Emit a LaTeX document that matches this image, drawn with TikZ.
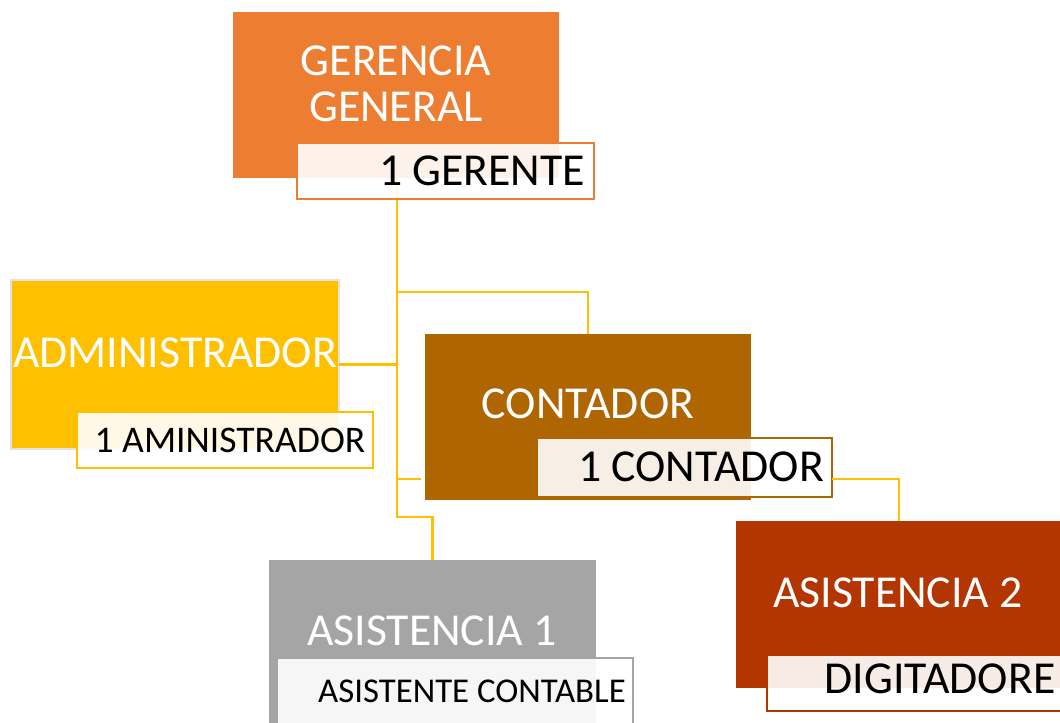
\documentclass[tikz,border=0pt]{standalone}
\usepackage{fontspec}
\setmainfont{Carlito}
\usetikzlibrary{fit}
\definecolor{cOrange}{HTML}{ED7D31}
\definecolor{cGold}{HTML}{FFC000}
\definecolor{cBrown}{HTML}{AF6500}
\definecolor{cGray}{HTML}{A5A5A5}
\definecolor{cRed}{HTML}{B33500}
\definecolor{cEdge}{HTML}{E2E2E2}
\begin{document}
\begin{tikzpicture}[x=0.75pt,y=-0.75pt,
  mainbox/.style={inner sep=0pt, outer sep=0pt},
  subbox/.style={inner sep=0pt, outer sep=0pt, fill=white, fill opacity=0.9, line width=1.5pt},
  big/.style={font=\fontsize{34.3}{34.3}\selectfont, inner sep=0pt, anchor=base},
  mid/.style={font=\fontsize{28.2}{28.2}\selectfont, inner sep=0pt, anchor=base},
  small/.style={font=\fontsize{26.1}{26.1}\selectfont, inner sep=0pt, anchor=base},
  conn/.style={draw=cGold, line width=1.9pt}]
\useasboundingbox (0,0) rectangle (1060,722);

% reference coordinates
\coordinate (tk) at (397,0);
\coordinate (y292) at (0,292);
\coordinate (y479) at (0,479);
\coordinate (y517) at (0,517);

% main boxes
\node[mainbox, fill=cOrange, fit={(233,12) (559,178)}] (ger) {};
\node[mainbox, fill=cGold, draw=cEdge, line width=1.2pt, fit={(11,280) (339,449)}] (adm) {};
\node[mainbox, fill=cBrown, fit={(425,334) (751,500)}] (cont) {};
\node[mainbox, fill=cGray, fit={(269,560) (596,740)}] (as1) {};
\node[mainbox, fill=cRed, fit={(736,521) (1062,688)}] (as2) {};

% connectors
\draw[conn] (ger.south -| tk) -- (tk |- y517) -| (as1.north);
\draw[conn] (tk |- y292) -| (cont.north);
\draw[conn] (adm.east) -- (adm.east -| tk);
\draw[conn] (tk |- y479) -- ([xshift=-3pt]cont.west |- y479);

% sub boxes
\node[subbox, draw=cOrange, fit={(297,143) (594,199)}] (gsub) {};
\node[subbox, draw=cGold, fit={(77,412) (373,468)}] (asub) {};
\node[subbox, draw=cBrown, fit={(537,438) (832,497)}] (csub) {};
\node[subbox, draw=cGray, fit={(277,658) (633,740)}] (s1sub) {};
\node[subbox, draw=cRed, fit={(767,655) (1075,711)}] (s2sub) {};

\draw[conn] (csub.east |- y479) -| (as2.north);

% titles
\node[big, text=white] (t1) at (396,75) {GERENCIA};
\node[big, text=white] (t2) at (396,121) {GENERAL};
\node[big, text=black] (t3) at (482,185) {1 GERENTE};
\node[big, text=white] (t4) at (175,367) {ADMINISTRADOR};
\node[mid, text=black] (t5) at (230,452) {1 AMINISTRADOR};
\node[big, text=white] (t6) at (588,418) {CONTADOR};
\node[big, text=black] (t7) at (701,481) {1 CONTADOR};
\node[big, text=white] (t8) at (432,645) {ASISTENCIA 1};
\node[small, text=black] (t9) at (472,702) {ASISTENTE CONTABLE};
\node[big, text=white] (t10) at (898,607) {ASISTENCIA 2};
\node[big, text=black] (t11) at (940,693) {DIGITADORE};
\end{tikzpicture}
\end{document}
